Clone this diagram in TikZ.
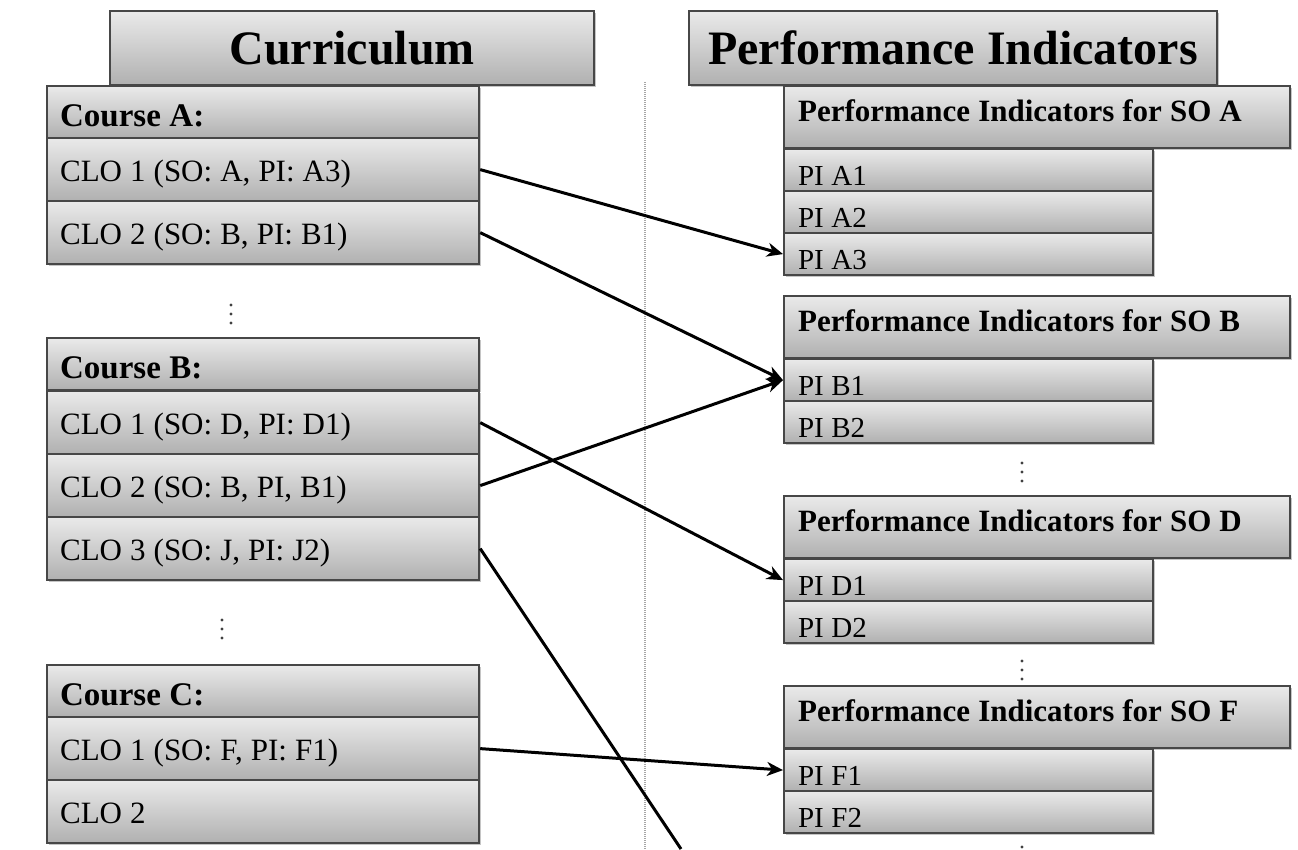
\documentclass[tikz,border=0pt]{standalone}
\usepackage{fontspec}
\setmainfont{Liberation Serif}
\usepackage{tikz}
\usetikzlibrary{arrows.meta,shadows}
\definecolor{boxtop}{HTML}{EAEAEA}
\definecolor{boxbot}{HTML}{B0B0B0}
\definecolor{boxline}{HTML}{474747}
\def\dotcol(#1,#2){\foreach \k in {0,1,2} \fill[black!75] (#1,#2+\k*9) circle (1.7pt);}
\tikzset{
  shade box/.style={draw=boxline, line width=2.2pt, top color=boxtop, bottom color=boxbot,
    anchor=north west, inner ysep=0pt, align=left,
    execute at begin node={\spaceskip=0.26em\relax},
    drop shadow={shadow xshift=2pt, shadow yshift=-2pt, fill=black!45}},
  title/.style={shade box, minimum height=74pt, inner xsep=0pt, align=center,
    font=\fontsize{48}{48}\selectfont\bfseries, text height=34pt, text depth=2pt},
  course/.style={shade box, text width=406pt, inner xsep=13pt, minimum height=52pt,
    font=\fontsize{33}{33}\selectfont\bfseries, text height=30pt, text depth=2pt},
  clo/.style={shade box, text width=406pt, inner xsep=13pt, minimum height=63pt,
    font=\fontsize{31}{31}\selectfont, text height=25pt, text depth=2pt},
  sohead/.style={shade box, text width=478pt, inner xsep=14pt, minimum height=62pt,
    font=\fontsize{31}{31}\selectfont\bfseries, text height=12pt, text depth=4pt},
  pirow/.style={shade box, text width=341pt, inner xsep=14pt, minimum height=42pt,
    font=\fontsize{29}{29}\selectfont, text height=31pt, text depth=1pt},
  link/.style={line width=3pt, -{Stealth[length=16pt,width=14pt,inset=5pt]}},
  sep/.style={black!35, line width=1.3pt, dash pattern=on 1pt off 1pt},
}
\begin{document}
\begin{tikzpicture}[x=1pt,y=-1pt]
			%%%%% START %%%%%
			\path[use as bounding box, fill=white] (0,0) rectangle (1298,849);
			
			\draw[sep] (645,82) -- (645,849);
			
			% headers
			\node[title, minimum width=484pt] (cur) at (109,10) {Curriculum};
			\node[title, minimum width=528pt] (perf) at (688,10) {Performance Indicators};
			
			% curriculum side
			\node[course] (cA) at (46,85) {Course A:};
			\foreach \t [count=\i] in {{CLO 1 (SO: A, PI: A3)},{CLO 2 (SO: B, PI: B1)}}
				\node[clo] (cA\i) at (46,137+63*\i-63) {\t};
			\dotcol(231,305)
			
			\node[course] (cB) at (46,337) {Course B:};
			\foreach \t [count=\i] in {{CLO 1 (SO: D, PI: D1)},{CLO 2 (SO: B, PI, B1)},{CLO 3 (SO: J, PI: J2)}}
				\node[clo] (cB\i) at (46,390+63*\i-63) {\t};
			\dotcol(222,620)
			
			\node[course] (cC) at (46,664) {Course C:};
			\foreach \t [count=\i] in {{CLO 1 (SO: F, PI: F1)},{CLO 2}}
				\node[clo] (cC\i) at (46,716+63*\i-63) {\t};
			
			% performance indicator side
			\node[sohead] (soA) at (783,85) {Performance Indicators for SO A};
			\foreach \i in {1,2,3}
				\node[pirow] (piA\i) at (783,148+42*\i-42) {PI A\i};
			
			\node[sohead] (soB) at (783,295) {Performance Indicators for SO B};
			\foreach \i in {1,2}
				\node[pirow] (piB\i) at (783,358+42*\i-42) {PI B\i};
			\dotcol(1022,463)
			
			\node[sohead] (soD) at (783,495) {Performance Indicators for SO D};
			\foreach \i in {1,2}
				\node[pirow] (piD\i) at (783,558+42*\i-42) {PI D\i};
			\dotcol(1022,661)
			
			\node[sohead] (soF) at (783,685) {Performance Indicators for SO F};
			\foreach \i in {1,2}
				\node[pirow] (piF\i) at (783,748+42*\i-42) {PI F\i};
			\dotcol(1022,847)
			
			% links
			\coordinate (offJ) at (681,849);
			\draw[link] (cA1.east) -- (piA3.west);
			\draw[link] (cA2.east) -- (piB1.west);
			\draw[link] (cB1.east) -- (piD1.west);
			\draw[link] (cB2.east) -- (piB1.west);
			\draw[line width=3pt] (cB3.east) -- (offJ);
			\draw[link] (cC1.east) -- (piF1.west);
			%%%%% END %%%%%
\end{tikzpicture}
\end{document}
